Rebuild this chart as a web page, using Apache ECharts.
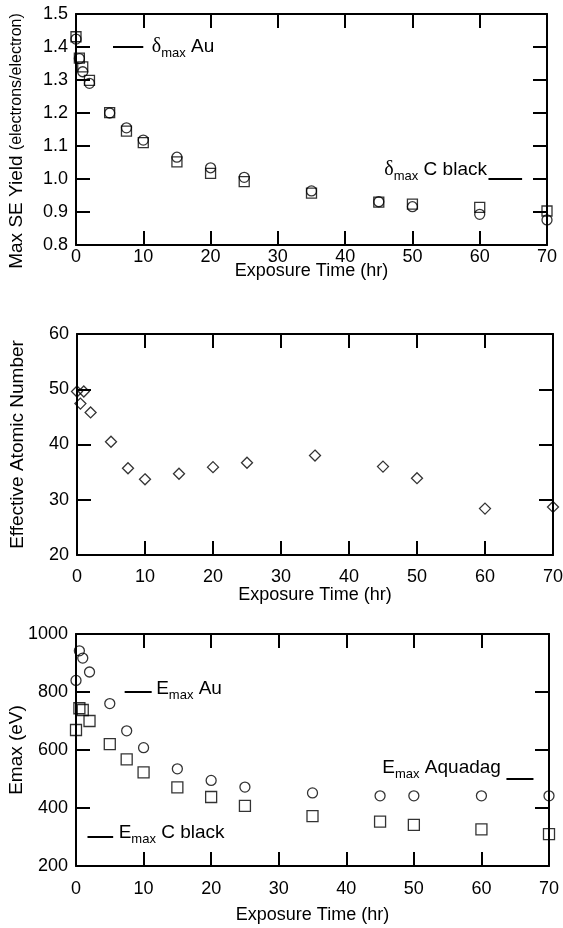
<!DOCTYPE html>
<html><head><meta charset="utf-8">
<script src="https://cdn.jsdelivr.net/npm/echarts@6/dist/echarts.min.js"></script>
<style>html,body{margin:0;padding:0;background:#fff}#c{width:563px;height:928px}</style>
</head><body><div id="c"></div>
<script>
// ---- data ----
const times = [0, 0.5, 1, 2, 5, 7.5, 10, 15, 20, 25, 35, 45, 50, 60, 70];
const yieldCircles = [1.424, 1.365, 1.325, 1.290, 1.200, 1.155, 1.118, 1.066, 1.034, 1.005, 0.964, 0.931, 0.916, 0.893, 0.876];
const yieldSquares = [1.431, 1.366, 1.340, 1.299, 1.201, 1.145, 1.110, 1.052, 1.017, 0.992, 0.957, 0.930, 0.924, 0.914, 0.903];
const zEffective = [49.6, 47.4, 49.6, 45.8, 40.5, 35.7, 33.7, 34.7, 35.9, 36.7, 38.0, 36.0, 33.9, 28.4, 28.7];
const emaxCircles = [840, 942, 917, 869, 760, 666, 608, 535, 495, 472, 452, 442, 442, 442, 442];
const emaxSquares = [669, 744, 738, 700, 620, 568, 523, 471, 438, 407, 372, 353, 342, 326, 310];

// reference levels drawn as short dashes: [xStart, xEnd, y]
const refDeltaAu = [5.5, 10, 1.4];
const refDeltaCBlack = [61.3, 66.3, 1.0];
const refEmaxAu = [7.2, 11.2, 800];
const refEmaxCBlack = [1.7, 5.5, 300];
const refEmaxAquadag = [63.7, 67.7, 500];

const xRange = [0, 70, 10];
const yieldRange = [0.8, 1.5, 0.1];
const zRange = [20, 60, 10];
const emaxRange = [200, 1000, 200];
const xTitle = 'Exposure Time (hr)';

// ---- styles ----
const FONT = 'Liberation Sans';
const BLACK = '#000';
const grids = [
  {left: 76, top: 14, width: 471, height: 231, containLabel: false, outerBoundsMode: 'none'},
  {left: 77, top: 334, width: 476, height: 221, containLabel: false, outerBoundsMode: 'none'},
  {left: 76, top: 634, width: 473, height: 232, containLabel: false, outerBoundsMode: 'none'}
];
const labelMargins = [3, 13, 14];
const nameGaps = [17, 31, 40];

function xAxes(i) {
  const common = {
    gridIndex: i, type: 'value', min: xRange[0], max: xRange[1], interval: xRange[2],
    axisLine: {show: true, onZero: false, lineStyle: {color: BLACK, width: 2}},
    axisTick: {show: true, inside: true, length: 14, lineStyle: {color: BLACK, width: 2}},
    splitLine: {show: false}, nameMoveOverlap: false
  };
  return [
    Object.assign({}, common, {
      position: 'bottom',
      axisLabel: {show: true, color: BLACK, fontFamily: FONT, fontSize: 18, margin: labelMargins[i]},
      name: xTitle, nameLocation: 'middle', nameGap: nameGaps[i],
      nameTextStyle: {color: BLACK, fontFamily: FONT, fontSize: 18}
    }),
    Object.assign({}, common, {position: 'top', axisLabel: {show: false}})
  ];
}
function yAxes(i, range, name, decimals, nameStyle) {
  const common = {
    gridIndex: i, type: 'value', min: range[0], max: range[1], interval: range[2],
    axisLine: {show: true, onZero: false, lineStyle: {color: BLACK, width: 2}},
    axisTick: {show: true, inside: true, length: 14, lineStyle: {color: BLACK, width: 2}},
    splitLine: {show: false}, nameMoveOverlap: false
  };
  return [
    Object.assign({}, common, {
      position: 'left',
      axisLabel: {show: true, color: BLACK, fontFamily: FONT, fontSize: 18, margin: 8,
        formatter: v => v.toFixed(decimals)},
      name: name, nameLocation: 'middle', nameGap: 50,
      nameTextStyle: Object.assign({color: BLACK, fontFamily: FONT, fontSize: 19}, nameStyle || {})
    }),
    Object.assign({}, common, {position: 'right', axisLabel: {show: false}})
  ];
}

function scatter(name, axis, xs, ys, symbol, size) {
  return {
    name: name, type: 'scatter', xAxisIndex: axis, yAxisIndex: axis, clip: false,
    symbol: symbol, symbolSize: size,
    itemStyle: {color: 'rgba(0,0,0,0)', borderColor: BLACK, borderWidth: 1.3},
    data: xs.map((t, k) => [t, ys[k]]),
    z: 3
  };
}

const richBase = {
  g: {fontFamily: 'Liberation Serif', fontSize: 20, color: BLACK},
  t: {fontFamily: FONT, fontSize: 19, color: BLACK},
  s: {fontFamily: FONT, fontSize: 13, color: BLACK, padding: [12, 0, 0, 0]}
};
function refLine(name, axis, ref, text, labelAt, labelPos, offset, dist) {
  const pts = [[ref[0], ref[2]], [ref[1], ref[2]]];
  const labelIdx = labelAt === 'end' ? 1 : 0;
  return {
    name: name, type: 'line', xAxisIndex: axis, yAxisIndex: axis, clip: false,
    symbol: 'circle', symbolSize: 1, showSymbol: true,
    itemStyle: {color: 'rgba(0,0,0,0)'},
    lineStyle: {color: BLACK, width: 2},
    data: pts.map((p, k) => k === labelIdx ? {
      value: p,
      label: {show: true, position: labelPos, distance: dist, offset: offset,
        formatter: text, rich: richBase}
    } : {value: p}),
    z: 4
  };
}

const option = {
  animation: false,
  backgroundColor: '#fff',
  grid: grids,
  xAxis: [].concat(xAxes(0), xAxes(1), xAxes(2)),
  yAxis: [].concat(
    yAxes(0, yieldRange, '{a|Max SE Yield }{b|(electrons/electron)}', 1,
      {padding: [0, 23, 0, 0], rich: {a: {fontFamily: FONT, fontSize: 19, color: BLACK}, b: {fontFamily: FONT, fontSize: 16, color: BLACK}}}),
    yAxes(1, zRange, 'Effective Atomic Number', 0),
    yAxes(2, emaxRange, 'Emax (eV)', 0)
  ),
  series: [
    scatter('SE yield (circles)', 0, times, yieldCircles, 'circle', 10),
    scatter('SE yield (squares)', 0, times, yieldSquares, 'rect', 10),
    refLine('δmax Au', 0, refDeltaAu, '{g|δ}{s|max}{t| Au}', 'end', 'right', [0, 0], 8),
    refLine('δmax C black', 0, refDeltaCBlack, '{g|δ}{s|max}{t| C black}', 'start', 'left', [0, -9], 1),
    scatter('Effective atomic number', 2, times, zEffective, 'diamond', [11, 11]),
    scatter('Emax (circles)', 4, times, emaxCircles, 'circle', 10),
    scatter('Emax (squares)', 4, times, emaxSquares, 'rect', 11),
    refLine('Emax Au', 4, refEmaxAu, '{t|E}{s|max}{t| Au}', 'end', 'right', [0, -3], 4),
    refLine('Emax C black', 4, refEmaxCBlack, '{t|E}{s|max}{t| C black}', 'end', 'right', [0, -4], 5),
    refLine('Emax Aquadag', 4, refEmaxAquadag, '{t|E}{s|max}{t| Aquadag}', 'start', 'left', [0, -11], 5)
  ]
};
const chart = echarts.init(document.getElementById('c'), null, {renderer: 'canvas'});
chart.setOption(option);
</script></body></html>
